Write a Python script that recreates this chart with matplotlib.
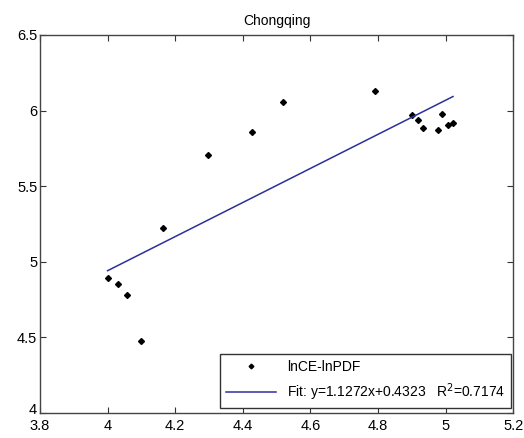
import numpy as np
import matplotlib
matplotlib.use("Agg")
import matplotlib.pyplot as plt
import matplotlib.transforms as mtransforms

# data (lnPDF vs lnCE)
ln_pdf = [4.00, 4.03, 4.057, 4.098, 4.163, 4.296, 4.426, 4.518, 4.791,
          4.900, 4.919, 4.932, 4.979, 4.989, 5.008, 5.022]
ln_ce = [4.893, 4.853, 4.78, 4.476, 5.224, 5.706, 5.858, 6.057, 6.132,
         5.971, 5.938, 5.887, 5.872, 5.978, 5.903, 5.920]

# fitted line coefficients
slope = 1.1272
intercept = 0.4323
r2 = 0.7174

xticks = [3.8, 4, 4.2, 4.4, 4.6, 4.8, 5, 5.2]
yticks = [4, 4.5, 5, 5.5, 6, 6.5]

plt.rcParams['font.family'] = ['Liberation Sans', 'DejaVu Sans']

fig = plt.figure(figsize=(5.24, 4.38), dpi=100)
ax = fig.add_axes([0.0763, 0.0571, 0.903, 0.863])

ax.plot(ln_pdf, ln_ce, 'D', color='black', markersize=3.0, linestyle='none',
        label='lnCE-lnPDF')

xf = np.array([min(ln_pdf), max(ln_pdf)])
ax.plot(xf, slope * xf + intercept, color='#2e2e9c', lw=1.1,
        label='Fit: y=%.4fx+%.4f   R$^2$=%.4f' % (slope, intercept, r2))

ax.set_xlim(3.8, 5.2)
ax.set_ylim(4, 6.5)
ax.set_xticks(xticks)
ax.set_xticklabels(['3.8', '4', '4.2', '4.4', '4.6', '4.8', '5', '5.2'])
ax.set_yticks(yticks)
ax.set_yticklabels(['4', '4.5', '5', '5.5', '6', '6.5'])
ax.tick_params(direction='in', top=True, right=True, length=4, labelsize=10.5,
               color='#333333')
ax.tick_params(axis='x', pad=4)
ax.tick_params(axis='y', pad=2)
for s in ax.spines.values():
    s.set_color('#444444')
    s.set_linewidth(1.0)

# nudge the bottom y label up a little so it clears "3.8"
lab = ax.get_yticklabels()[0]
lab.set_transform(lab.get_transform() +
                  mtransforms.ScaledTranslation(0, 3 / 72, fig.dpi_scale_trans))

ax.set_title('Chongqing', fontsize=10, pad=7)

leg = ax.legend(loc='lower right', bbox_to_anchor=(0.995, 0.013),
                borderaxespad=0, fontsize=10, fancybox=False, framealpha=1,
                edgecolor='#333333', handlelength=3.6, borderpad=0.4,
                labelspacing=0.5, markerscale=0.8)
leg.get_frame().set_linewidth(1.0)

fig.savefig('out.png', dpi=100)
